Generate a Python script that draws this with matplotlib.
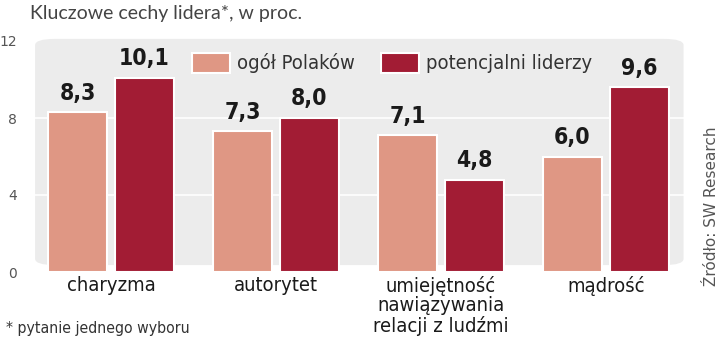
import numpy as np
import matplotlib
matplotlib.use("Agg")
import matplotlib.pyplot as plt
from matplotlib.patches import FancyBboxPatch, Patch

# dane
kategorie = ["charyzma", "autorytet", "umiejętność\nnawiązywania\nrelacji z ludźmi", "mądrość"]
ogol_polakow = [8.3, 7.3, 7.1, 6.0]
potencjalni_liderzy = [10.1, 8.0, 4.8, 9.6]
etykiety_serii = ["ogół Polaków", "potencjalni liderzy"]
y_ticks = [0, 4, 8, 12]

kolor_jasny = "#df9784"
kolor_ciemny = "#a21c34"
tlo = "#ececec"
narrow = ["DejaVu Sans"]
stretch = "condensed"

fig = plt.figure(figsize=(7.2, 3.43), dpi=100)
ax = fig.add_axes([28 / 720, 71 / 343, 662 / 720, 231 / 343])
ax.set_xlim(-0.503, 3.509)
ax.set_ylim(0, 12)

# szare tło z zaokrąglonymi rogami
bg = FancyBboxPatch((-0.46, 0.36), 3.93, 11.75, boxstyle="round,pad=0,rounding_size=0.12",
                    mutation_aspect=11.75 / 3.93 * 0.9, facecolor=tlo, edgecolor="none",
                    zorder=0, clip_on=False)
ax.add_patch(bg)
for yv in [4, 8]:
    ax.plot([-0.46, 3.47], [yv, yv], color="white", lw=1.2, zorder=1)

x = np.arange(len(kategorie))
off = 0.203
w = 0.358
b1 = ax.bar(x - off, ogol_polakow, w, color=kolor_jasny, edgecolor="white", lw=1.5, zorder=2)
b2 = ax.bar(x + off, potencjalni_liderzy, w, color=kolor_ciemny, edgecolor="white", lw=1.5, zorder=2)

for bars, vals in [(b1, ogol_polakow), (b2, potencjalni_liderzy)]:
    for b, v in zip(bars, vals):
        ax.text(b.get_x() + b.get_width() / 2, v + 0.4, f"{v:.1f}".replace(".", ","),
                ha="center", va="bottom", fontsize=16.5, fontweight="bold",
                color="#1a1a1a", family=narrow, fontstretch=stretch)

for xi, k in zip(x, kategorie):
    ax.text(xi, -0.2, k, ha="center", va="top", fontsize=14.5, color="#1a1a1a",
            family=narrow, fontstretch=stretch, linespacing=1.03)

ax.set_yticks(y_ticks)
ax.set_yticklabels([str(t) for t in y_ticks], fontsize=10, color="#555555")
ax.tick_params(axis="y", length=0, pad=8)
ax.set_xticks([])
for s in ax.spines.values():
    s.set_visible(False)
ax.patch.set_visible(False)

uchwyty = [Patch(facecolor=kolor_jasny, edgecolor="white", lw=1.5),
           Patch(facecolor=kolor_ciemny, edgecolor="white", lw=1.5)]
ax.legend(uchwyty, etykiety_serii, ncol=2, frameon=False, loc="center",
          bbox_to_anchor=(0.55, 0.905),
          prop={"family": "DejaVu Sans", "size": 14.5, "stretch": "condensed"},
          handlelength=1.9, handleheight=1.15, columnspacing=1.3, handletextpad=0.35,
          labelcolor="#333333")

fig.text(30 / 720, 1 - 13 / 343, "Kluczowe cechy lidera*, w proc.", fontsize=14,
         color="#444444", va="center", ha="left", family=["Lato", "DejaVu Sans"])
fig.text(6 / 720, 1 - 329 / 343, "* pytanie jednego wyboru", fontsize=11.3,
         color="#333333", va="center", ha="left", family=narrow, fontstretch=stretch)
fig.text(712 / 720, 1 - 206 / 343, "Źródło: SW Research", fontsize=11, rotation=90,
         color="#555555", va="center", ha="center")

fig.savefig("out.png", dpi=100)
